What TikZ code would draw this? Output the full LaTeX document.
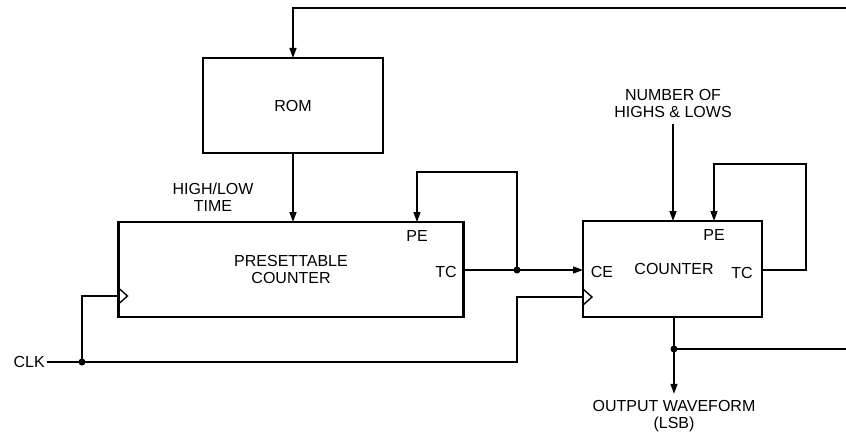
\documentclass[tikz,border=0pt]{standalone}
\usepackage{fontspec}
\setmainfont{Liberation Sans}
\usetikzlibrary{arrows.meta,positioning}

\begin{document}
\begin{tikzpicture}[x=1pt,y=-1pt,>={Triangle[length=10pt,width=7pt]},
  font=\fontsize{16}{17.5}\selectfont,
  wire/.style={line width=1.4pt},
  blk/.style={draw,line width=2.4pt,inner sep=0pt,outer sep=0pt,align=center},
  txt/.style={align=center,inner sep=6pt},
  pin/.style={inner sep=1pt}]
  \useasboundingbox (0,0) rectangle (846,433);

  % blocks
  \node[blk,minimum width=180pt,minimum height=95pt] (rom) at (293,105.5) {ROM};
  \node[blk,minimum width=345pt,minimum height=95pt] (pcnt) at (291,269.5) {PRESETTABLE\\COUNTER};
  \node[blk,minimum width=179pt,minimum height=96pt] (cnt) at (672.5,269) {\hspace*{3pt}COUNTER};

  % pins
  \node[pin] (pcntPE) at (417,236) {PE};
  \node[pin] (pcntTC) at (446,272) {TC};
  \node[pin] (cntCE) at (602,272) {CE};
  \node[pin] (cntPE) at (714,235) {PE};
  \node[pin] (cntTC) at (742,273) {TC};
  \draw[wire] (pcnt.west |- 0,288) -- ++(9,8) -- ++(-9,8);
  \draw[wire] (cnt.west |- 0,289) -- ++(9,8) -- ++(-9,8);

  % labels
  \node[txt] (hlt) at (213,197) {HIGH/LOW\\TIME};
  \node[txt] (nhl) at (673,103.5) {NUMBER OF\\HIGHS \& LOWS};
  \node[txt] (out) at (674,416) {OUTPUT WAVEFORM\\(LSB)};
  \node[inner sep=2pt,anchor=east] (clk) at (47,362) {CLK};

  % junctions
  \coordinate (fbR) at (846,8);
  \coordinate (tcJ) at (517,270);
  \coordinate (clkJ) at (82,362);
  \coordinate (outJ) at (674,349);
  \coordinate (outR) at (846,349);

  % connectors
  \draw[wire,->] (fbR) -| (rom.north);
  \draw[wire,->] (rom.south) -- (rom.south |- pcnt.north);
  \draw[wire] (pcnt.east |- tcJ) -- (tcJ);
  \draw[wire,->] (tcJ) -- (cnt.west |- tcJ);
  \draw[wire,->] (tcJ) -- (tcJ |- 0,172) -| (pcntPE.north |- pcnt.north);
  \draw[wire,->] (nhl.south) -- (nhl.south |- cnt.north);
  \draw[wire,->] (cnt.east |- 0,270) -- (806,270) -- (806,164) -| (cntPE.north |- cnt.north);
  \draw[wire] (clk) -- (clkJ) -- (517,362) |- (cnt.west |- 0,297);
  \draw[wire] (clkJ) |- (pcnt.west |- 0,296);
  \draw[wire] (cnt.south -| outJ) -- (outJ) -- (outR);
  \draw[wire,->] (outJ) -- (out.north);
  \foreach \j in {tcJ,clkJ,outJ}
    \fill (\j) circle (3.5pt);
\end{tikzpicture}
\end{document}
